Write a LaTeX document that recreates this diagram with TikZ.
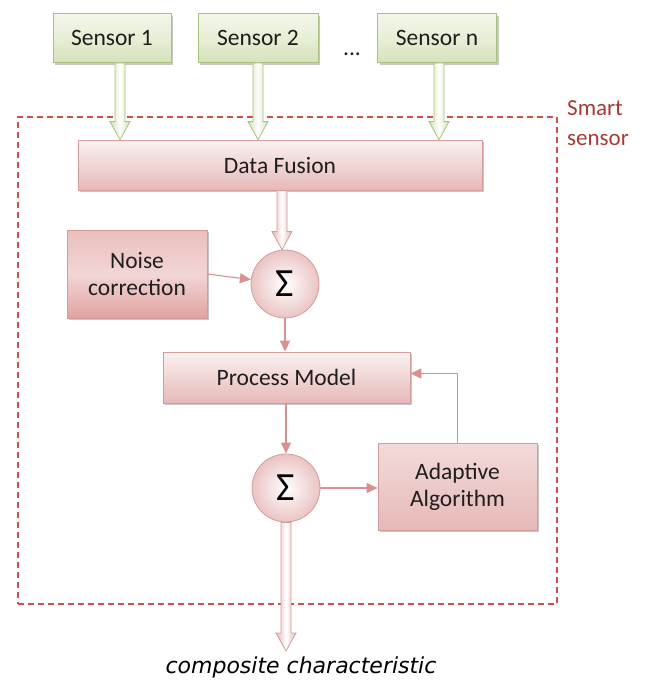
\documentclass[tikz,border=0pt]{standalone}
\usepackage{fontspec}
\setmainfont{Carlito}
\newfontfamily\obliquefont{DejaVu Sans}
\usetikzlibrary{arrows.meta,shadows,calc}

\definecolor{grnline}{HTML}{A9C07F}
\definecolor{grntop}{HTML}{F3F7EA}
\definecolor{grnbot}{HTML}{D5E2BA}
\definecolor{pnkline}{HTML}{D39C9A}
\definecolor{pnktop}{HTML}{FBF1F1}
\definecolor{pnkbot}{HTML}{E6B9B8}
\definecolor{pnkdeep}{HTML}{E0A3A1}
\definecolor{pnkarrow}{HTML}{D9908E}
\definecolor{dashred}{HTML}{C9504D}
\definecolor{labelred}{HTML}{A83A36}
\definecolor{txt}{HTML}{1E1E1E}

\tikzset{
  boxshadow/.style={drop shadow={shadow xshift=2pt,shadow yshift=-2pt,fill=black,opacity=0.22}},
  sensorbox/.style={draw=grnline, line width=0.8pt, top color=grntop, bottom color=grnbot,
    middle color=grntop!60!grnbot, boxshadow, text=txt, minimum height=49pt, inner sep=0pt},
  pinkbox/.style={draw=pnkline, line width=0.8pt, top color=pnktop, bottom color=pnkbot,
    boxshadow, text=txt, inner sep=0pt, align=center},
  deepbox/.style={draw=pnkline, line width=0.8pt, top color=pnkdeep!70!white, bottom color=pnkdeep,
    middle color=pnkdeep!45!white, boxshadow, text=txt, inner sep=0pt, align=center},
  sumnode/.style={circle, draw=pnkline, line width=0.8pt, inner color=white, outer color=pnkbot!85!white,
    minimum size=68pt, inner sep=0pt, text=black, font=\fontsize{40}{42}\selectfont},
  thinarrow/.style={draw=pnkarrow, line width=1.1pt, -{Triangle[length=11pt,width=10pt]}},
  blockarrow/.style={line width=0.8pt, line join=miter,
    to path={let \p1=(\tikztostart), \p2=(\tikztotarget) in
      ({\x1-5pt},\y1) -- ({\x1-5pt},{\y2+18pt}) -- ({\x1-10pt},{\y2+18pt}) -- (\x1,\y2)
      -- ({\x1+10pt},{\y2+18pt}) -- ({\x1+5pt},{\y2+18pt}) -- ({\x1+5pt},\y1) -- cycle}},
  greenarrow/.style={blockarrow, draw=grnline, left color=grnbot, right color=grnbot, middle color=white},
  pinkarrow/.style={blockarrow, draw=pnkline, left color=pnkbot, right color=pnkbot, middle color=white},
  dashbox/.style={draw=dashred, line width=1.2pt, dash pattern=on 6pt off 4pt, inner sep=0pt}
}

\begin{document}
\begin{tikzpicture}[x=1pt,y=-1pt, font=\fontsize{23.5}{27}\selectfont]
\useasboundingbox (0,0) rectangle (646,680);

% enclosing smart-sensor frame and its label
\node[dashbox, minimum width=539pt, minimum height=487pt] (frame) at (287.5,360.5) {};
\node[text=labelred, align=left, anchor=north west, inner sep=0pt,
      font=\fontsize{23}{30}\selectfont] (lbl) at (567,100) {Smart\\sensor};

% sensors
\node[sensorbox, minimum width=118pt] (s1) at (112,38) {Sensor 1};
\node[sensorbox, minimum width=120pt] (s2) at (258,38) {Sensor 2};
\node[sensorbox, minimum width=119pt] (sn) at (437,38) {Sensor n};
\node[text=txt, inner sep=0pt] (dots) at (352,54) {...};

% processing chain
\node[pinkbox, minimum width=404pt, minimum height=50pt] (df) at (280,165) {Data Fusion};
\node[deepbox, minimum width=140pt, minimum height=88pt] (nc) at (137,274) {Noise\\correction};
\node[sumnode] (sig1) at (285,284) {Σ};
\node[pinkbox, minimum width=247pt, minimum height=51pt] (pm) at (286.5,377.5) {Process Model};
\node[sumnode] (sig2) at (286,488) {Σ};
\node[pinkbox, minimum width=159pt, minimum height=87pt, top color=pnktop!60!pnkbot, bottom color=pnkbot] (aa) at (457.5,486.5) {Adaptive\\Algorithm};

\node[text=black, inner sep=0pt, font=\obliquefont\itshape\fontsize{22}{26}\selectfont] (cc) at (301,667) {composite characteristic};
\coordinate (outtip) at (286,651);

% sensor inputs
\draw[greenarrow] ([xshift=8pt]s1.south) to ([xshift=8pt]s1.south |- df.north);
\draw[greenarrow] (s2.south) to (s2.south |- df.north);
\draw[greenarrow] ([xshift=2pt]sn.south) to ([xshift=2pt]sn.south |- df.north);

% fused signal into the first summing point
\coordinate (dfout) at ([xshift=-3pt]df.south -| sig1.north);
\draw[pinkarrow] (dfout) to (dfout |- sig1.north);

% thin signal lines
\draw[thinarrow] (nc.east) -- (sig1);
\draw[thinarrow] (sig1.south) -- (pm.north -| sig1.south);
\draw[thinarrow] (pm.south -| sig2.north) -- (sig2.north);
\draw[thinarrow] (sig2.east) -- (aa.west |- sig2.east);
\draw[thinarrow] (aa.north) |- ([yshift=4pt]pm.east);

% output
\draw[pinkarrow] (sig2.south) to (outtip);
\end{tikzpicture}
\end{document}
